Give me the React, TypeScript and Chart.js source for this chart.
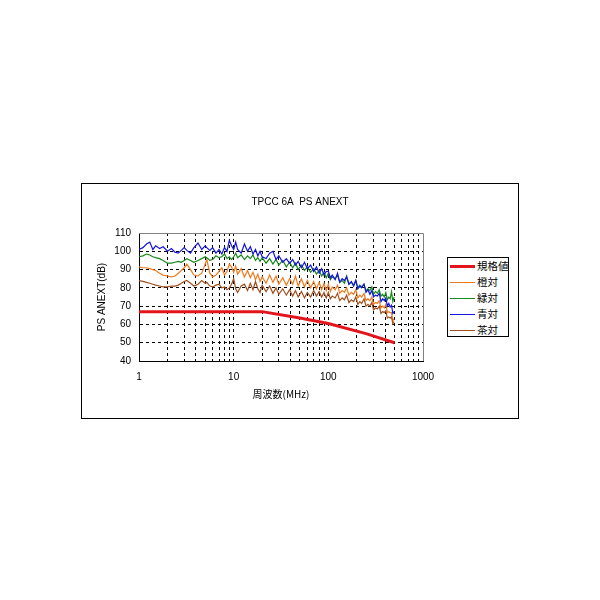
import React, { useEffect, useRef } from "react";
import { Chart, registerables } from "chart.js";

Chart.register(...registerables);

const TITLE = "TPCC 6A  PS ANEXT";
const Y_TITLE = "PS ANEXT(dB)";
const X_TITLE = "周波数(MHz)";

const X_TICKS = [1, 2, 3, 4, 5, 6, 7, 8, 9, 10, 20, 30, 40, 50, 60, 70, 80, 90, 100, 200, 300, 400, 500, 600, 700, 800, 900, 1000];
const X_LABELS = [1, 10, 100, 1000];

const SERIES_NAMES = ["規格値", "橙対", "緑対", "青対", "茶対"];
const SERIES_COLORS = ["#e2141c", "#f07a1e", "#17881a", "#1515e0", "#a04e1c"];

// 規格値
const LIMIT_F = [1, 20, 50, 100, 250, 500];
const LIMIT_V = [67, 67, 63.5, 60.5, 55, 50];

// measured frequencies (MHz)
const FREQ = [
  1, 1.1, 1.2, 1.3, 1.4, 1.5, 1.65, 1.8, 2, 2.2, 2.4, 2.6, 2.8, 3, 3.2, 3.5, 3.8, 4.2, 4.6, 5, 5.2, 5.6, 6, 6.5, 7, 7.5, 8, 8.5, 9, 9.5,
  10, 10.5, 11, 12, 13, 14, 15, 16, 17, 18, 19, 20, 22, 24, 26, 28, 30, 33, 36, 39, 42, 45, 48, 52, 56, 60, 65, 70, 75, 80, 85, 90, 95,
  100, 105, 110, 118, 125, 132, 140, 148, 156, 165, 175, 185, 195, 205, 215, 225, 238, 250, 262, 275, 288, 300, 315, 330, 345, 360, 375, 390, 405, 420, 435, 450, 465, 480, 495,
];

const ORANGE = [
  91.5, 91, 91, 90.5, 90, 89.5, 88, 87, 86.5, 86, 86.5, 88, 89.5, 91, 93, 90, 87, 86.5, 88, 93, 95.5, 88, 86, 87, 89, 91, 87, 89, 93, 91.5,
  88.5, 92, 87.5, 90.5, 86, 89.5, 85.5, 88.5, 84.5, 87.5, 83.5, 86, 82.5, 87, 83, 86.5, 82, 85.5, 81.5, 85, 82, 86.5, 81, 85, 80.5, 84, 80, 83.5, 79.5, 83, 79, 82.5, 78.5,
  82, 78, 80.5, 79, 81.5, 77, 78.5, 77.5, 80, 76, 77.5, 76.5, 79, 74.5, 76, 75, 77, 73, 74, 73, 75, 71, 72, 71.5, 73, 69, 70, 69, 71, 66.5, 67, 66.5, 66.5, 62, 63,
];

const GREEN = [
  97, 97.5, 98.5, 98, 97, 96.5, 96, 95, 93.5, 93.5, 94, 94.5, 94, 95, 96, 95, 94, 95, 96, 97, 96.5, 95, 95.5, 97.5, 96.5, 97, 98.5, 96, 97, 95.5,
  97, 99, 96.5, 98, 95.5, 97.5, 96, 98, 95, 96.5, 94.5, 96.5, 93.5, 96, 93, 95.5, 92.5, 95, 91.5, 94, 91, 93.5, 90, 92.5, 89.5, 91.5, 88.5, 90.5, 87.5, 89.5, 86.5, 88.5, 85.5,
  88, 84.5, 86, 85, 87, 83, 84, 82.5, 86.5, 82, 83, 81.5, 84, 80, 81.5, 80.5, 82, 78.5, 79.5, 78.5, 80.5, 76.5, 78, 77, 79, 75.5, 76.5, 75, 77.5, 73.5, 75, 74, 78, 72.5, 75,
];

const BLUE = [
  101, 102, 104, 105, 101, 103, 101.5, 102.5, 100, 101.5, 99.5, 99, 100.5, 102, 100.5, 99, 102, 104.5, 101, 103, 102, 100.5, 102, 99, 101, 98.5, 102, 100, 106, 103,
  101, 105, 101, 99, 104, 100, 102.5, 98.5, 101, 97.5, 100, 97, 96, 99, 100, 95.5, 97.5, 94, 96, 93.5, 95.5, 92.5, 94.5, 91, 94, 90.5, 92.5, 89, 91.5, 88, 90.5, 87, 89,
  89, 85.5, 87, 84.5, 88, 83, 85, 84, 86, 82, 83.5, 81, 84, 79.5, 81, 80, 82, 77.5, 79, 76.5, 78.5, 75, 76, 75.5, 77, 72.5, 74, 73, 74.5, 70, 71.5, 69.5, 70.5, 66, 67,
];

const BROWN = [
  84, 83.5, 83, 82.5, 82, 81.5, 81, 80.5, 80.5, 81, 81, 81.5, 82.5, 83.5, 84, 82.5, 81, 82, 84, 82.5, 83, 81, 80.5, 81.5, 82, 80, 80.5, 79, 80, 82,
  85, 79.5, 77.5, 81, 82, 78.5, 82.5, 79, 83.5, 79.5, 77.5, 81.5, 78, 81, 77, 80, 76.5, 79.5, 76, 79, 75.5, 78.5, 75, 78, 74.5, 77.5, 75, 78.5, 75.5, 78, 75, 77.5, 74.5,
  77.5, 74, 75.5, 74.5, 77, 73, 74.5, 73.5, 76, 72, 73.5, 72.5, 75, 71, 72.5, 71.5, 74, 70, 71, 70, 72, 68, 69, 68.5, 70, 66, 67, 66.5, 67.5, 63.5, 64, 63.5, 64, 60.5, 61.5,
];

const LATIN = "'Liberation Sans', 'Noto Sans CJK JP', sans-serif";
const CJK = "'Noto Sans CJK JP', 'Liberation Sans', sans-serif";

const toPoints = (xs: number[], ys: number[]) => xs.map((x, i) => ({ x, y: ys[i] }));

const plotFrame = {
  id: "plotFrame",
  afterDraw(chart: any) {
    const { ctx, chartArea } = chart;
    ctx.save();
    ctx.fillStyle = "#000";
    ctx.font = `10px ${LATIN}`;
    ctx.textAlign = "center";
    ctx.textBaseline = "middle";
    ctx.fillText(TITLE, chart.width / 2, 18);
    ctx.strokeStyle = "#808080";
    ctx.lineWidth = 1;
    ctx.beginPath();
    ctx.moveTo(chartArea.left, chartArea.top + 0.5);
    ctx.lineTo(chartArea.right + 0.5, chartArea.top + 0.5);
    ctx.lineTo(chartArea.right + 0.5, chartArea.bottom);
    ctx.stroke();
    ctx.restore();
  },
};

export default function App() {
  const canvasRef = useRef<HTMLCanvasElement | null>(null);
  const chartRef = useRef<Chart | null>(null);

  useEffect(() => {
    if (!canvasRef.current) return;
    const seriesData = [
      toPoints(LIMIT_F, LIMIT_V),
      toPoints(FREQ, ORANGE),
      toPoints(FREQ, GREEN),
      toPoints(FREQ, BLUE),
      toPoints(FREQ, BROWN),
    ];
    chartRef.current = new Chart(canvasRef.current, {
      type: "line",
      data: {
        datasets: SERIES_NAMES.map((name, i) => ({
          label: name,
          data: seriesData[i],
          borderColor: SERIES_COLORS[i],
          backgroundColor: SERIES_COLORS[i],
          borderWidth: i === 0 ? 3 : 1.2,
          pointRadius: 0,
          tension: 0,
          order: SERIES_NAMES.length - i,
        })),
      },
      options: {
        animation: false,
        responsive: true,
        maintainAspectRatio: false,
        layout: { padding: { left: 0, top: 49, right: 95, bottom: 17 } },
        plugins: { legend: { display: false }, tooltip: { enabled: false }, title: { display: false } },
        scales: {
          x: {
            type: "logarithmic",
            min: 1,
            max: 1000,
            afterBuildTicks: (scale: any) => {
              scale.ticks = X_TICKS.map((v) => ({ value: v }));
            },
            afterFit: (scale: any) => {
              scale.height = 40;
            },
            grid: {
              drawTicks: false,
              lineWidth: 1,
              color: (c: any) => (c.tick && (c.tick.value === 1 || c.tick.value === 1000) ? "rgba(0,0,0,0)" : "#000"),
            },
            border: { display: true, color: "#000", width: 1, dash: [3, 3] },
            ticks: {
              autoSkip: false,
              maxRotation: 0,
              padding: 10,
              color: "#000",
              font: { family: LATIN, size: 10 },
              callback: (v: any) => (X_LABELS.includes(Number(v)) ? String(v) : ""),
            },
            title: { display: true, text: X_TITLE, color: "#000", font: { family: CJK, size: 10 }, padding: { top: 0, bottom: 1 } },
          },
          y: {
            min: 40,
            max: 110,
            afterFit: (scale: any) => {
              scale.width = 57;
            },
            grid: {
              drawTicks: false,
              lineWidth: 1,
              color: (c: any) => (c.tick && (c.tick.value === 40 || c.tick.value === 110) ? "rgba(0,0,0,0)" : "#000"),
            },
            border: { display: true, color: "#000", width: 1, dash: [3, 3] },
            ticks: { stepSize: 10, padding: 8, color: "#000", font: { family: LATIN, size: 10 } },
            title: { display: true, text: Y_TITLE, color: "#000", font: { family: LATIN, size: 10 }, padding: { top: 14, bottom: 0 } },
          },
        },
      },
      plugins: [plotFrame],
    });
    return () => {
      chartRef.current?.destroy();
    };
  }, []);

  return (
    <div style={{ position: "absolute", left: 0, top: 0, width: 600, height: 600, background: "#fff" }}>
      <div style={{ position: "absolute", left: 81, top: 183, width: 436, height: 234, border: "1px solid #000" }}>
        <div style={{ position: "relative", width: 436, height: 234 }}>
          <canvas ref={canvasRef} />
        </div>
      </div>
      <div
        style={{
          position: "absolute",
          left: 447,
          top: 257,
          width: 62,
          height: 80,
          border: "1px solid #000",
          background: "#fff",
          fontFamily: CJK,
          fontSize: 10.5,
          color: "#000",
          paddingTop: 0,
          boxSizing: "border-box",
          whiteSpace: "nowrap",
          overflow: "visible",
        }}
      >
        {SERIES_NAMES.map((name, i) => (
          <div key={name} style={{ display: "flex", alignItems: "center", height: 16 }}>
            <div
              style={{
                flexShrink: 0,
                marginLeft: 2,
                width: 25,
                height: 0,
                borderTop: `${i === 0 ? 3 : 1}px solid ${SERIES_COLORS[i]}`,
              }}
            />
            <span style={{ marginLeft: 2, lineHeight: "14px", flexShrink: 0 }}>{name}</span>
          </div>
        ))}
      </div>
    </div>
  );
}
